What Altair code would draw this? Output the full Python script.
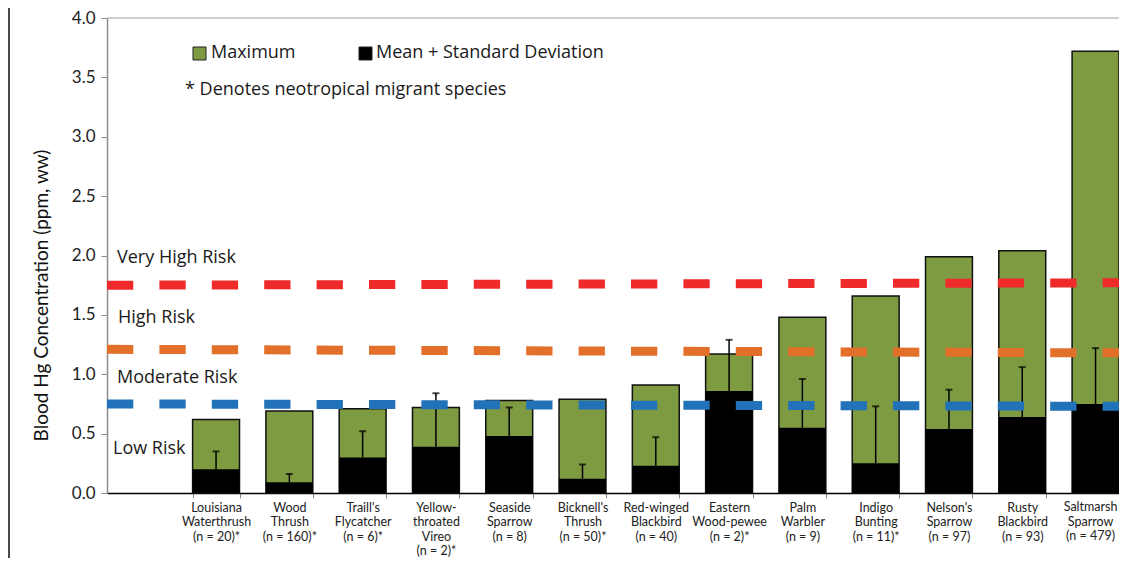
import altair as alt
import pandas as pd

# ---------------- data ----------------
species = [
    "Louisiana|Waterthrush|(n = 20)*",
    "Wood|Thrush|(n = 160)*",
    "Traill's|Flycatcher|(n = 6)*",
    "Yellow-|throated|Vireo|(n = 2)*",
    "Seaside|Sparrow|(n = 8)",
    "Bicknell's|Thrush|(n = 50)*",
    "Red-winged|Blackbird|(n = 40)",
    "Eastern|Wood-pewee|(n = 2)*",
    "Palm|Warbler|(n = 9)",
    "Indigo|Bunting|(n = 11)*",
    "Nelson's|Sparrow|(n = 97)",
    "Rusty|Blackbird|(n = 93)",
    "Saltmarsh|Sparrow|(n = 479)",
]
maximum = [0.62, 0.69, 0.71, 0.72, 0.78, 0.79, 0.91, 1.17, 1.48, 1.66, 1.99, 2.04, 3.72]
mean = [0.20, 0.09, 0.30, 0.39, 0.48, 0.12, 0.23, 0.86, 0.55, 0.25, 0.54, 0.64, 0.75]
sd = [0.15, 0.07, 0.22, 0.45, 0.24, 0.12, 0.24, 0.43, 0.41, 0.48, 0.33, 0.42, 0.47]

risk_names = ["Very High", "High", "Moderate"]
risk_start = [1.75, 1.21, 0.75]
risk_end = [1.77, 1.18, 0.73]
risk_colors = ["#EE2A2B", "#E3702A", "#2272B9"]

y_ticks = [0.0, 0.5, 1.0, 1.5, 2.0, 2.5, 3.0, 3.5, 4.0]

GREEN = "#7F9B41"
FONT = "Lato"
TFONT = "Open Sans"
W = 1012
H = 475

df = pd.DataFrame({"species": species, "maximum": maximum, "mean": mean, "sd": sd})
df["idx"] = range(len(species))
risk_df = pd.DataFrame({"risk": risk_names, "start": risk_start, "end": risk_end})
last_idx = len(species) - 1

yscale = alt.Scale(domain=[0, 4], nice=False, zero=True)
# 13 bands; the empty first slot of the original is produced by the outer padding
xscale = alt.Scale(domain=species, paddingInner=0.36, paddingOuter=0.584, align=1)

LABEL_SIZE = 12.5
LABEL_LH = 14.5

x_axis = alt.Axis(
    title=None, labelAngle=0, tickBand="extent", tickSize=5, tickColor="#8c8c8c",
    domainColor="#000000", domainWidth=1.5, labelFontSize=LABEL_SIZE, labelLineHeight=LABEL_LH,
    labelPadding=3, labelBaseline="top", labelColor="#222222", labelOverlap=False,
    labelLimit=200, labelFont=FONT,
    # the right-most label is drawn by a text layer so that it can be nudged inside the page
    labelExpr=("isValid(datum.value) && datum.value != '%s' ? split(datum.value, '|') : ''"
               % species[-1].replace("'", "\\'")),
)
y_axis = alt.Axis(
    title="Blood Hg Concentration (ppm, ww)", titleFontSize=19, titleFontWeight="normal",
    titleColor="#111111", titleFont=FONT, titleX=-66, titleY=277,
    titleAngle=270, titleAlign="center", titleBaseline="middle",
    values=y_ticks, format=".1f", labelFontSize=17, labelColor="#222222", labelFont=FONT,
    labelPadding=6, tickSize=6, tickColor="#8c8c8c", domainColor="#8c8c8c",
    domainWidth=1.5, grid=False,
)

base = alt.Chart(df)
X = alt.X("species:N", scale=xscale, axis=x_axis, sort=None)

green = base.mark_bar(color=GREEN, stroke="#111111", strokeWidth=1.5).encode(
    x=X, y=alt.Y("maximum:Q", scale=yscale, axis=y_axis), y2=alt.datum(0)
)
black = base.mark_bar(color="#000000").encode(
    x=X, y=alt.Y("mean:Q", scale=yscale), y2=alt.datum(0)
)
err = base.transform_calculate(upper="datum.mean + datum.sd").mark_rule(
    color="#000000", strokeWidth=1.5
).encode(x=X, y=alt.Y("mean:Q", scale=yscale), y2="upper:Q")
cap = base.transform_calculate(upper="datum.mean + datum.sd").mark_tick(
    color="#000000", size=7, thickness=2
).encode(x=X, y=alt.Y("upper:Q", scale=yscale))

last_label = base.transform_filter(alt.datum.idx == last_idx).mark_text(
    lineBreak="|", baseline="top", align="center", dx=-5, fontSize=LABEL_SIZE,
    lineHeight=LABEL_LH, font=FONT, color="#222222"
).encode(x=X, y=alt.value(H + 8), text="species:N")

risk = alt.Chart(risk_df).mark_rule(strokeWidth=9, strokeDash=[26.3, 26.1], strokeCap="butt").encode(
    x=alt.value(0), x2=alt.value(W),
    y=alt.Y("start:Q", scale=yscale), y2="end:Q",
    color=alt.Color("risk:N", scale=alt.Scale(domain=risk_names, range=risk_colors), legend=None),
)

top_line = alt.Chart(alt.Data(values=[{}])).mark_rule(color="#a0a0a0", strokeWidth=1.2).encode(
    x=alt.value(0), x2=alt.value(W), y=alt.value(0)
)
frame = alt.Chart(alt.Data(values=[{}])).mark_rule(color="#4a4a4a", strokeWidth=2).encode(
    x=alt.value(-98), y=alt.value(-10), y2=alt.value(H + 65)
)


def label(text, x, y, size=18):
    return alt.Chart(alt.Data(values=[{}])).mark_text(
        text=text, align="left", baseline="middle", fontSize=size, font=TFONT, color="#1a1a1a"
    ).encode(x=alt.value(x), y=alt.value(y))


def square(x, color):
    return alt.Chart(alt.Data(values=[{}])).mark_rect(
        color=color, stroke="#222222", strokeWidth=1
    ).encode(x=alt.value(x), x2=alt.value(x + 13), y=alt.value(29), y2=alt.value(42))


texts = [
    label("Very High Risk", 10, 240),
    label("High Risk", 11, 300),
    label("Moderate Risk", 10, 360),
    label("Low Risk", 6, 431),
    label("Maximum", 104, 35),
    label("Mean + Standard Deviation", 269, 35),
    label("* Denotes neotropical migrant species", 78, 72),
    square(86, GREEN),
    square(252, "#000000"),
]

chart = alt.layer(frame, top_line, green, black, err, cap, risk, last_label, *texts).properties(
    width=W, height=H,
    autosize=alt.AutoSizeParams(type="none"),
    padding={"left": 99, "top": 10, "right": 0, "bottom": 65},
).configure(font=FONT).configure_view(stroke=None)

chart.save("out.html", embed_options={"renderer": "svg", "actions": False})
